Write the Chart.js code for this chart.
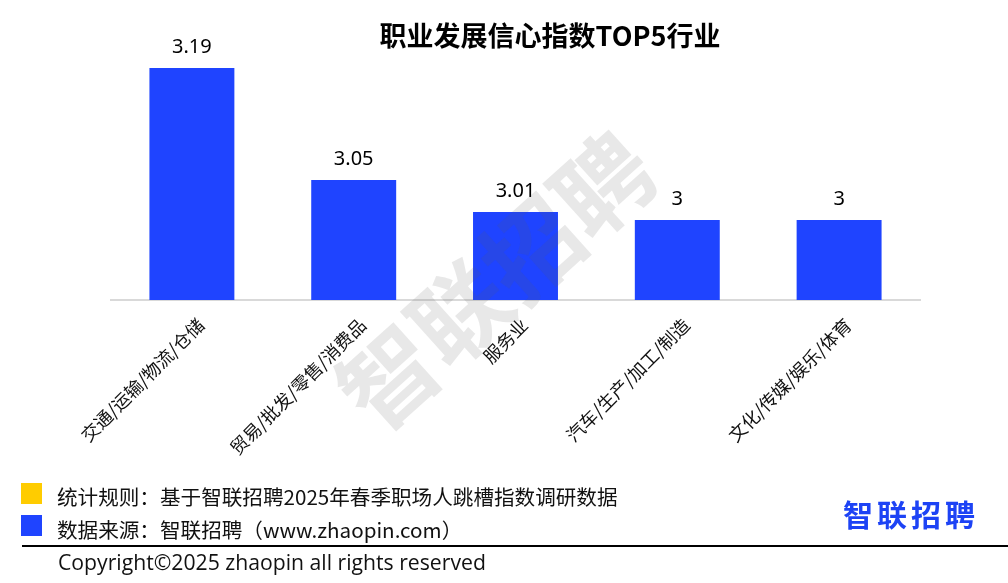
<!DOCTYPE html>
<html><head><meta charset="utf-8">
<script src="https://cdn.jsdelivr.net/npm/chart.js@4.4.1/dist/chart.umd.min.js"></script>
<style>
html,body{margin:0;padding:0;background:#fff;}
body{width:1008px;height:583px;position:relative;overflow:hidden;font-family:"Noto Sans CJK SC","Noto Sans",sans-serif;}
#c{position:absolute;left:0;top:0;}
.t{position:absolute;white-space:nowrap;color:#000;line-height:1;}
#title{left:0;width:1100px;text-align:center;top:21px;font-size:27px;font-weight:bold;}
.sq{position:absolute;width:21px;height:21px;left:21px;}
#rule{left:57px;top:486px;font-size:20.6px;color:#111;}
#src{left:57px;top:519px;font-size:20.6px;color:#111;}
#line{position:absolute;left:22px;right:0;top:545px;height:2px;background:#000;}
#copy{left:58px;top:551px;font-size:21.2px;font-family:"Open Sans","Noto Sans",sans-serif;color:#111;}
#logo{left:843px;top:498px;font-size:30px;font-weight:bold;color:#1d43f5;letter-spacing:4px;}
</style></head><body>
<canvas id="c" width="1008" height="583"></canvas>
<div class="t" id="title">职业发展信心指数TOP5行业</div>
<div class="sq" style="top:483px;background:#ffcc00"></div>
<div class="t" id="rule">统计规则：基于智联招聘2025年春季职场人跳槽指数调研数据</div>
<div class="sq" style="top:515px;background:#1f44ff"></div>
<div class="t" id="src">数据来源：智联招聘（www.zhaopin.com）</div>
<div id="line"></div>
<div class="t" id="copy">Copyright©2025 zhaopin all rights reserved</div>
<div class="t" id="logo">智联招聘</div>
<script>
const categories = ["交通/运输/物流/仓储","贸易/批发/零售/消费品","服务业","汽车/生产/加工/制造","文化/传媒/娱乐/体育"];
const values = [3.19, 3.05, 3.01, 3, 3];
const valueLabels = ["3.19","3.05","3.01","3","3"];

const labelPlugin = {
  id:'labels',
  afterDatasetsDraw(chart){
    const ctx = chart.ctx;
    const meta = chart.getDatasetMeta(0);
    ctx.save();
    ctx.font = '20px "Noto Sans", "Noto Sans CJK SC", sans-serif';
    ctx.fillStyle = '#000';
    ctx.textAlign = 'center';
    ctx.textBaseline = 'alphabetic';
    meta.data.forEach((bar,i)=>{
      ctx.fillText(valueLabels[i], bar.x, bar.y - 15);
    });
    ctx.restore();
  },
  afterDraw(chart){
    const ctx = chart.ctx;
    ctx.save();
    ctx.translate(496, 281);
    ctx.rotate(-42*Math.PI/180);
    ctx.font = 'bold 96px "Noto Sans CJK SC", sans-serif';
    ctx.fillStyle = 'rgba(90,90,90,0.14)';
    ctx.textAlign = 'center';
    ctx.textBaseline = 'middle';
    ctx.fillText('智联招聘', 0, 0);
    ctx.restore();
  }
};

new Chart(document.getElementById('c'), {
  type:'bar',
  data:{labels:categories, datasets:[{data:values, backgroundColor:'#1f44ff', barPercentage:0.525, categoryPercentage:1}]},
  options:{
    responsive:false, animation:false,
    layout:{padding:{left:111,right:88,top:60,bottom:0}},
    plugins:{legend:{display:false},tooltip:{enabled:false},title:{display:false}},
    scales:{
      x:{
        grid:{display:false, drawTicks:false},
        border:{display:true,color:'#d9d9d9',width:2},
        ticks:{color:'#111',font:{size:18,family:'"Noto Sans CJK SC", sans-serif'},minRotation:45,maxRotation:45,padding:14,labelOffset:9,autoSkip:false},
        afterFit(s){s.height = 283;}
      },
      y:{display:false,min:2.9,max:3.2}
    }
  },
  plugins:[labelPlugin]
});
</script>
</body></html>
